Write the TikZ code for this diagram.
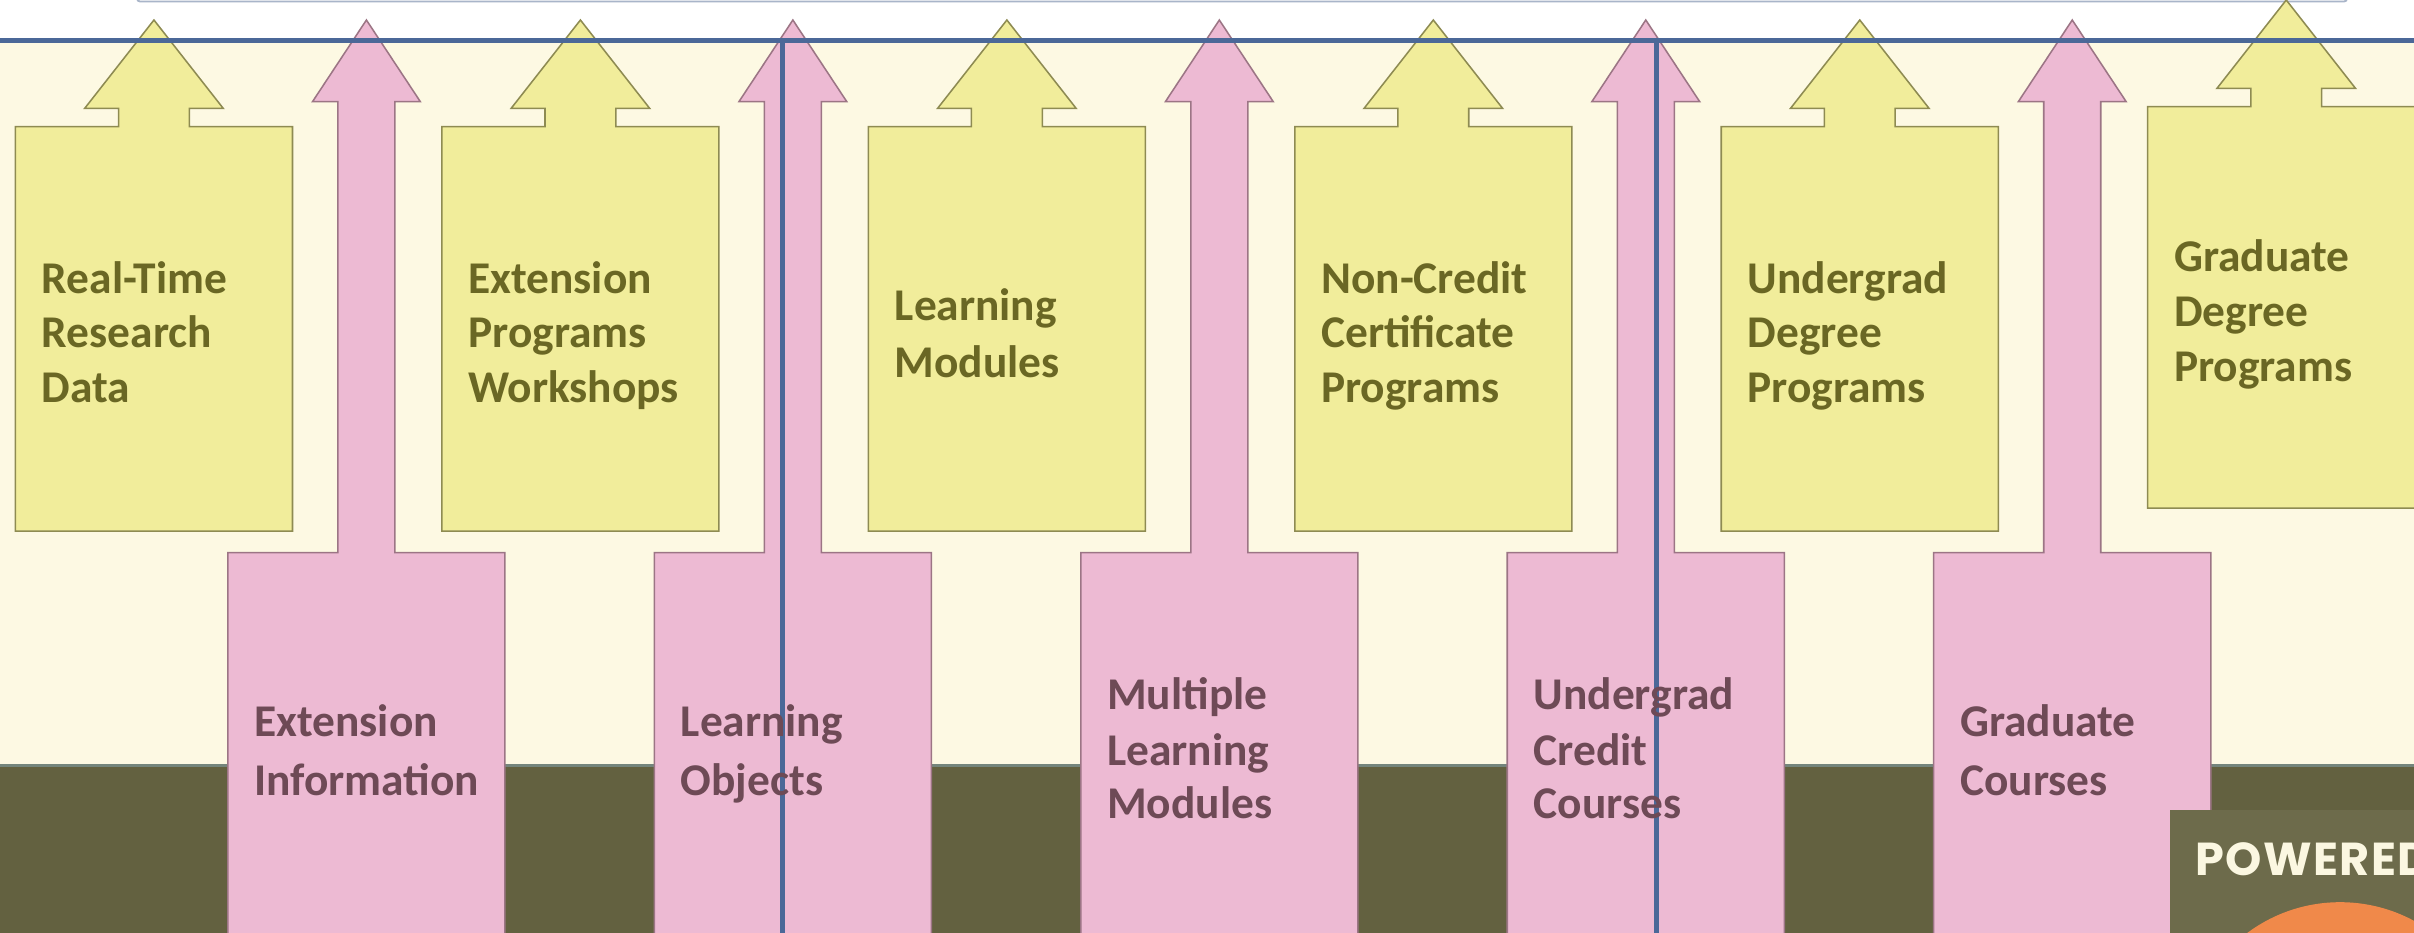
\documentclass[tikz,border=0pt]{standalone}
\usepackage{fontspec}
\setmainfont{Carlito}
\newfontfamily\powfont{Poppins}[LetterSpace=3]
\definecolor{cream}{HTML}{FDF9E3}
\definecolor{olivebg}{HTML}{636140}
\definecolor{powbox}{HTML}{6D6B4B}
\definecolor{blueline}{HTML}{4B6898}
\definecolor{yfill}{HTML}{F1ED9B}
\definecolor{ydraw}{HTML}{8E8B52}
\definecolor{pfill}{HTML}{EDBAD3}
\definecolor{pdraw}{HTML}{9C7585}
\definecolor{ytext}{HTML}{6A6724}
\definecolor{ptext}{HTML}{6E4A56}
\definecolor{orangec}{HTML}{F0894A}
\definecolor{topline}{HTML}{A9B5C9}
\definecolor{tealline}{HTML}{74857C}
\definecolor{powtext}{HTML}{FBF7E1}
\tikzset{
  yarrowshape/.style={fill=yfill, draw=ydraw, line width=1pt, line join=miter},
  parrowshape/.style={fill=pfill, draw=pdraw, line width=1pt, line join=miter},
  ytxt/.style={font=\bfseries\fontsize{29.5}{35}\selectfont, text=ytext, inner sep=0pt, anchor=base west},
  ptxt/.style={font=\bfseries\fontsize{29.5}{35}\selectfont, text=ptext, inner sep=0pt, anchor=base west},
  bluerule/.style={draw=blueline, line width=3.2pt},
}
% yellow arrow: centre x, tip y, head-base y, box top y, box bottom y
\newcommand\yarrowdraw[5]{%
  \draw[yarrowshape] (#1-90,#4) -- (#1-23,#4) -- (#1-23,#3) -- (#1-45,#3) -- (#1,#2)
    -- (#1+45,#3) -- (#1+23,#3) -- (#1+23,#4) -- (#1+90,#4) -- (#1+90,#5) -- (#1-90,#5) -- cycle;}
% pink arrow: centre x
\newcommand\parrowdraw[1]{%
  \draw[parrowshape] (#1-90,359) -- (#1-18.5,359) -- (#1-18.5,66) -- (#1-35,66) -- (#1,13)
    -- (#1+35,66) -- (#1+18.5,66) -- (#1+18.5,359) -- (#1+90,359) -- (#1+90,612) -- (#1-90,612) -- cycle;}
\begin{document}
\begin{tikzpicture}[x=1pt,y=-1pt]
\useasboundingbox (0,0) rectangle (1568,605.4);
\clip (0,0) rectangle (1568,605.4);
% backgrounds
\fill[white] (0,0) rectangle (1568,26.4);
\fill[cream] (0,26.4) rectangle (1568,497);
\fill[olivebg] (0,497) rectangle (1568,606);
\draw[tealline, line width=2pt] (0,497.5) -- (1568,497.5);
\draw[topline, line width=1.2pt] (89,-3) -- (89,-1) arc[start angle=180, end angle=90, radius=2] -- (1522.5,1) arc[start angle=90, end angle=0, radius=2] -- (1524.5,-3);
% yellow arrows
\yarrowdraw{100}{13}{70.4}{82.3}{345}
\yarrowdraw{377}{13}{70.4}{82.3}{345}
\yarrowdraw{654}{13}{70.4}{82.3}{345}
\yarrowdraw{931}{13}{70.4}{82.3}{345}
\yarrowdraw{1208}{13}{70.4}{82.3}{345}
\yarrowdraw{1485}{0}{57.4}{69.3}{330}
% pink arrows
\parrowdraw{238}
\parrowdraw{515}
\parrowdraw{792}
\parrowdraw{1069}
\parrowdraw{1346}
% powered box
\fill[powbox] (1409.5,526) rectangle (1570,607);
\fill[orangec] (1520,687) circle[radius=101];
\node[anchor=base west, inner sep=0pt, text=powtext, font=\powfont\bfseries\fontsize{30}{32}\selectfont] (pow) at (1426,568.4) {POWERED};
% blue rules
\draw[bluerule] (0,26.4) -- (1568,26.4);
\draw[bluerule] (508.5,26.4) -- (508.5,606);
\draw[bluerule] (1076,26.4) -- (1076,606);
% yellow texts
\node[ytxt] (y1a) at (27,190.5) {Real-Time};
\node[ytxt] (y1b) at (27,226) {Research};
\node[ytxt] (y1c) at (27,261.5) {Data};
\node[ytxt] (y2a) at (304,190.5) {Extension};
\node[ytxt] (y2b) at (304,226) {Programs};
\node[ytxt] (y2c) at (304,261.5) {Workshops};
\node[ytxt] (y3a) at (581,208) {Learning};
\node[ytxt] (y3b) at (581,245) {Modules};
\node[ytxt] (y4a) at (858,190.5) {Non-Credit};
\node[ytxt] (y4b) at (858,226) {Certificate};
\node[ytxt] (y4c) at (858,261.5) {Programs};
\node[ytxt] (y5a) at (1135,190.5) {Undergrad};
\node[ytxt] (y5b) at (1135,226) {Degree};
\node[ytxt] (y5c) at (1135,261.5) {Programs};
\node[ytxt] (y6a) at (1412,176.5) {Graduate};
\node[ytxt] (y6b) at (1412,212) {Degree};
\node[ytxt] (y6c) at (1412,247.5) {Programs};
% pink texts
\node[ptxt] (p1a) at (165,478.7) {Extension};
\node[ptxt] (p1b) at (165,516.5) {Information};
\node[ptxt] (p2a) at (442,478.7) {Learning};
\node[ptxt] (p2b) at (442,516.5) {Objects};
\node[ptxt] (p3a) at (719,461) {Multiple};
\node[ptxt] (p3b) at (719,497) {Learning};
\node[ptxt] (p3c) at (719,531.5) {Modules};
\node[ptxt] (p4a) at (996,461) {Undergrad};
\node[ptxt] (p4b) at (996,497) {Credit};
\node[ptxt] (p4c) at (996,531.5) {Courses};
\node[ptxt] (p5a) at (1273,478.7) {Graduate};
\node[ptxt] (p5b) at (1273,516.5) {Courses};
\end{tikzpicture}
\end{document}
